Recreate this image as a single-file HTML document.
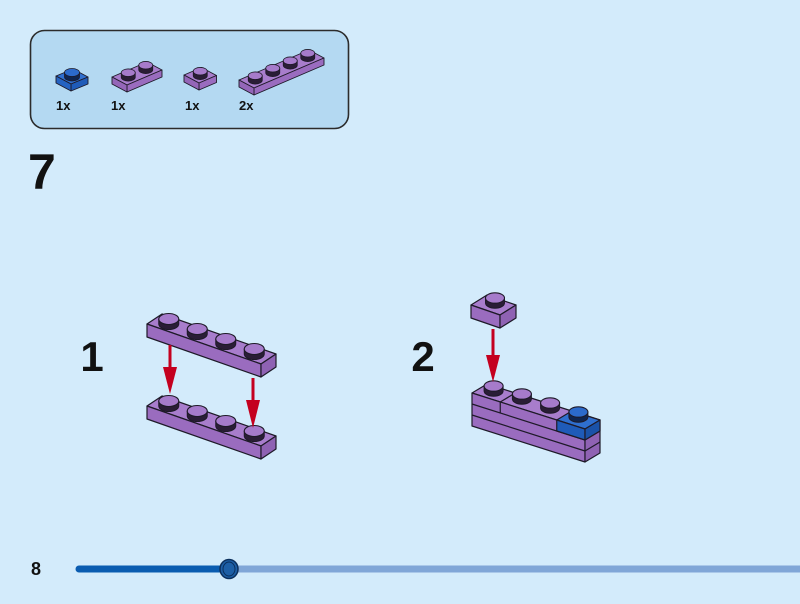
<!DOCTYPE html>
<html><head><meta charset="utf-8"><style>
html,body{margin:0;padding:0;background:#d3ebfb;}
svg{display:block;}
text{font-family:"Liberation Sans",Arial,sans-serif;font-weight:bold;fill:#111;}
</style></head><body>
<svg width="800" height="604" viewBox="0 0 800 604" xmlns="http://www.w3.org/2000/svg">
<defs>
<g id="studP"><path d="M-10,-5 V0 A10,5.5 0 0 0 10,0 V-5 Z" fill="#2a1d36" stroke="#1e1a28" stroke-width="1"/><ellipse cx="0" cy="-5" rx="10" ry="5.5" fill="#a67bcb" stroke="#1e1a28" stroke-width="1.1"/></g>
<g id="studP2"><path d="M-9.5,-5 V0 A9.5,5.2 0 0 0 9.5,0 V-5 Z" fill="#2a1d36" stroke="#1e1a28" stroke-width="1"/><ellipse cx="0" cy="-5" rx="9.5" ry="5.2" fill="#a67bcb" stroke="#1e1a28" stroke-width="1.1"/></g>
<g id="studB2"><path d="M-9.5,-5 V0 A9.5,5.2 0 0 0 9.5,0 V-5 Z" fill="#0f2550" stroke="#1e1a28" stroke-width="1"/><ellipse cx="0" cy="-5" rx="9.5" ry="5.2" fill="#2c6acb" stroke="#1e1a28" stroke-width="1.1"/></g>
<g id="studPs"><path d="M-7,-4.5 V0 A7,3.8 0 0 0 7,0 V-4.5 Z" fill="#2a1d36" stroke="#1e1a28" stroke-width="0.8"/><ellipse cx="0" cy="-4.5" rx="7" ry="3.8" fill="#a67bcb" stroke="#1e1a28" stroke-width="0.8"/></g>
<g id="studBs"><path d="M-7.5,-4.5 V0 A7.5,4 0 0 0 7.5,0 V-4.5 Z" fill="#0f2550" stroke="#1e1a28" stroke-width="0.8"/><ellipse cx="0" cy="-4.5" rx="7.5" ry="4" fill="#2c6acb" stroke="#1e1a28" stroke-width="0.8"/></g>
</defs>

<!-- Inventory box -->
<rect x="30.5" y="30.5" width="318" height="98" rx="14" ry="14" fill="#b4d9f2" stroke="#2b2b2b" stroke-width="1.6"/>

<g stroke="#1e1a28" stroke-width="0.9" stroke-linejoin="round">
  <!-- blue 1x1 -->
  <polygon points="71,84 88,77 73,69 56,76" fill="#2f6fcf"/>
  <polygon points="71,84 88,77 88,84 71,91" fill="#1f5bb8"/>
  <polygon points="56,76 71,84 71,91 56,83" fill="#2563c2"/>
  <use href="#studBs" x="72" y="77"/>
  <!-- purple 1x2 -->
  <polygon points="127,85 162,70 147,62 112,77" fill="#a87dcc"/>
  <polygon points="127,85 162,70 162,77 127,92" fill="#9a6cbf"/>
  <polygon points="112,77 127,85 127,92 112,84" fill="#9466b8"/>
  <use href="#studPs" x="128.25" y="77.25"/>
  <use href="#studPs" x="145.75" y="69.75"/>
  <!-- purple 1x1 -->
  <polygon points="199,83 216.5,75.5 201.5,67.5 184,75" fill="#a87dcc"/>
  <polygon points="199,83 216.5,75.5 216.5,82.5 199,90" fill="#9a6cbf"/>
  <polygon points="184,75 199,83 199,90 184,82" fill="#9466b8"/>
  <use href="#studPs" x="200.25" y="75.75"/>
  <!-- purple 1x4 -->
  <polygon points="254,88 324,58 309,50 239,80" fill="#a87dcc"/>
  <polygon points="254,88 324,58 324,65 254,95" fill="#9a6cbf"/>
  <polygon points="239,80 254,88 254,95 239,87" fill="#9466b8"/>
  <use href="#studPs" x="255.25" y="80.25"/>
  <use href="#studPs" x="272.75" y="72.75"/>
  <use href="#studPs" x="290.25" y="65.25"/>
  <use href="#studPs" x="307.75" y="57.75"/>
</g>
<text x="56" y="110" font-size="13">1x</text>
<text x="111" y="110" font-size="13">1x</text>
<text x="185" y="110" font-size="13">1x</text>
<text x="239" y="110" font-size="13">2x</text>

<!-- step number -->
<text x="28" y="189" font-size="50">7</text>

<!-- sub-step labels -->
<text x="92" y="371" font-size="42" text-anchor="middle">1</text>
<text x="423" y="371" font-size="42" text-anchor="middle">2</text>

<!-- Step 1 -->
<g stroke="#1e1a28" stroke-width="1.2" stroke-linejoin="round">
  <!-- top plate -->
  <polygon points="147,324 162,314 276,354 261,364" fill="#a87dcc"/>
  <polygon points="147,324 261,364 261,377 147,337" fill="#9a6cbf"/>
  <polygon points="261,364 276,354 276,367 261,377" fill="#8f62b3"/>
  <use href="#studP" x="168.75" y="324"/>
  <use href="#studP" x="197.25" y="334"/>
  <use href="#studP" x="225.75" y="344"/>
  <use href="#studP" x="254.25" y="354"/>
  <!-- bottom plate -->
  <polygon points="147,406 162,396 276,436 261,446" fill="#a87dcc"/>
  <polygon points="147,406 261,446 261,459 147,419" fill="#9a6cbf"/>
  <polygon points="261,446 276,436 276,449 261,459" fill="#8f62b3"/>
  <use href="#studP" x="168.75" y="406"/>
  <use href="#studP" x="197.25" y="416"/>
  <use href="#studP" x="225.75" y="426"/>
  <use href="#studP" x="254.25" y="436"/>
</g>
<!-- arrows step 1 -->
<g fill="#c4001f">
  <rect x="168.5" y="345" width="3" height="24"/>
  <polygon points="163,367 177,367 170,394"/>
  <rect x="251.5" y="378" width="3" height="24"/>
  <polygon points="246,400 260,400 253,428"/>
</g>

<!-- Step 2 -->
<g stroke="#1e1a28" stroke-width="1.2" stroke-linejoin="round">
  <!-- small plate -->
  <polygon points="471,305 487,295 516,305 500,315" fill="#a87dcc"/>
  <polygon points="471,305 500,315 500,328 471,318" fill="#9a6cbf"/>
  <polygon points="500,315 516,305 516,318 500,328" fill="#8f62b3"/>
  <use href="#studP2" x="495" y="303"/>
  <!-- assembly -->
  <polygon points="472,393 487,384 600,420 585,429" fill="#a87dcc"/>
  <polygon points="472,393 585,429 585,462 472,426" fill="#9a6cbf"/>
  <polygon points="585,429 600,420 600,453 585,462" fill="#8f62b3"/>
  <polyline points="472,404 585,440 600,431" fill="none"/>
  <polyline points="472,415 585,451 600,442" fill="none"/>
  <polyline points="515.25,393 500.25,402 500.25,413" fill="none"/>
  <!-- blue plate -->
  <polygon points="556.75,420 571.75,411 600,420 585,429" fill="#2f6fcf"/>
  <polygon points="556.75,420 585,429 585,440 556.75,431" fill="#1f5bb8"/>
  <polygon points="585,429 600,420 600,431 585,440" fill="#1a52a8"/>
  <use href="#studP2" x="493.6" y="391"/>
  <use href="#studP2" x="521.9" y="399"/>
  <use href="#studP2" x="550.1" y="408"/>
  <use href="#studB2" x="578.4" y="417"/>
</g>
<g fill="#c4001f">
  <rect x="491.5" y="329" width="3" height="28"/>
  <polygon points="486,355 500,355 493,382"/>
</g>

<!-- progress bar -->
<line x1="229" y1="569" x2="800" y2="569" stroke="#80a6d7" stroke-width="7"/>
<line x1="79" y1="569" x2="229" y2="569" stroke="#0a5cb0" stroke-width="7" stroke-linecap="round"/>
<ellipse cx="229" cy="569" rx="9" ry="9.5" fill="#1d5fa6" stroke="#0b2f5c" stroke-width="1.5"/>
<ellipse cx="229" cy="569" rx="6" ry="7" fill="none" stroke="#0b2f5c" stroke-width="1"/>
<text x="36" y="575" font-size="18" text-anchor="middle">8</text>
</svg>
</body></html>
